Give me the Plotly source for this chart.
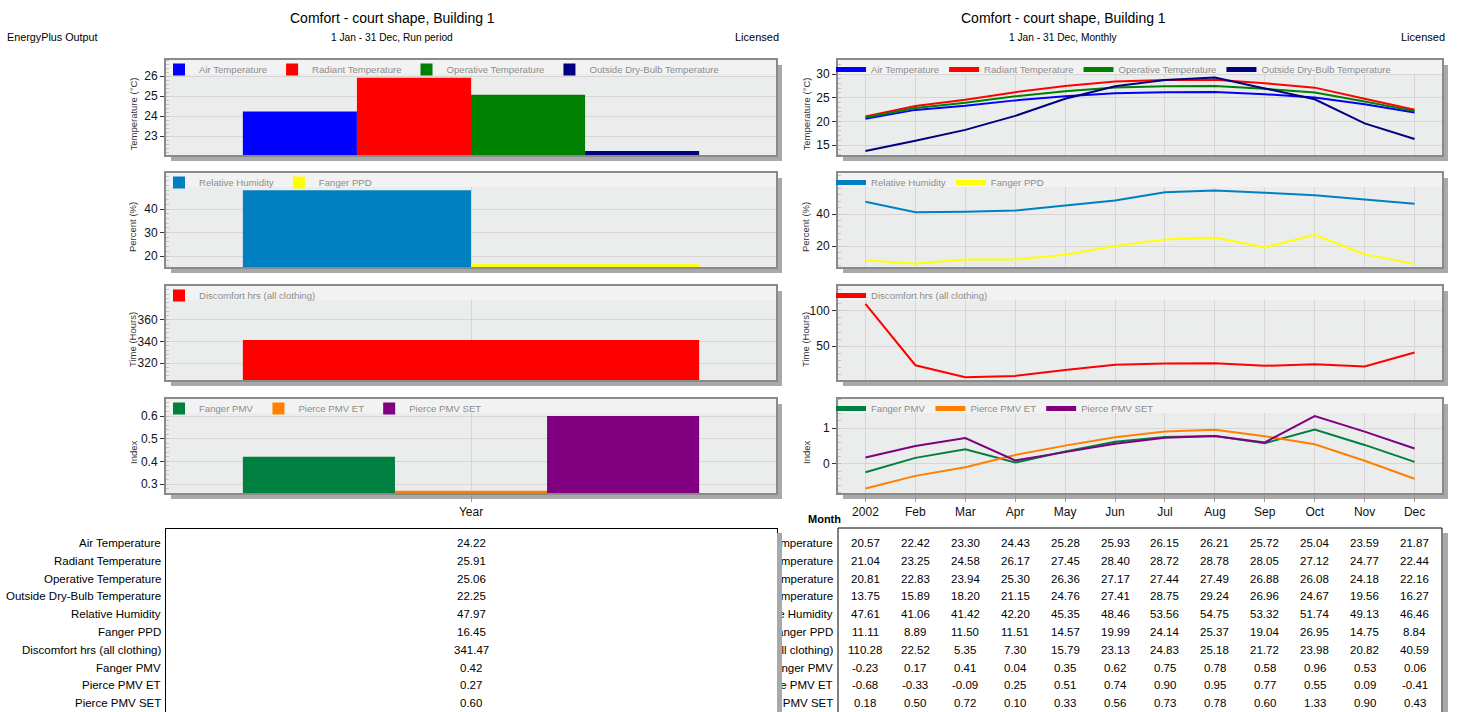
import plotly.graph_objects as go

W, H = 1458, 712

# ---------------- data ----------------
months = ["2002", "Feb", "Mar", "Apr", "May", "Jun", "Jul", "Aug", "Sep", "Oct", "Nov", "Dec"]
year_label = ["Year"]

series_names = [
    "Air Temperature", "Radiant Temperature", "Operative Temperature",
    "Outside Dry-Bulb Temperature", "Relative Humidity", "Fanger PPD",
    "Discomfort hrs (all clothing)", "Fanger PMV", "Pierce PMV ET", "Pierce PMV SET",
]
annual_values = [24.22, 25.91, 25.06, 22.25, 47.97, 16.45, 341.47, 0.42, 0.27, 0.60]

air_temp = [20.57, 22.42, 23.30, 24.43, 25.28, 25.93, 26.15, 26.21, 25.72, 25.04, 23.59, 21.87]
radiant_temp = [21.04, 23.25, 24.58, 26.17, 27.45, 28.40, 28.72, 28.78, 28.05, 27.12, 24.77, 22.44]
operative_temp = [20.81, 22.83, 23.94, 25.30, 26.36, 27.17, 27.44, 27.49, 26.88, 26.08, 24.18, 22.16]
outside_temp = [13.75, 15.89, 18.20, 21.15, 24.76, 27.41, 28.75, 29.24, 26.96, 24.67, 19.56, 16.27]
rel_humidity = [47.61, 41.06, 41.42, 42.20, 45.35, 48.46, 53.56, 54.75, 53.32, 51.74, 49.13, 46.46]
fanger_ppd = [11.11, 8.89, 11.50, 11.51, 14.57, 19.99, 24.14, 25.37, 19.04, 26.95, 14.75, 8.84]
discomfort_hrs = [110.28, 22.52, 5.35, 7.30, 15.79, 23.13, 24.83, 25.18, 21.72, 23.98, 20.82, 40.59]
fanger_pmv = [-0.23, 0.17, 0.41, 0.04, 0.35, 0.62, 0.75, 0.78, 0.58, 0.96, 0.53, 0.06]
pierce_pmv_et = [-0.68, -0.33, -0.09, 0.25, 0.51, 0.74, 0.90, 0.95, 0.77, 0.55, 0.09, -0.41]
pierce_pmv_set = [0.18, 0.50, 0.72, 0.10, 0.33, 0.56, 0.73, 0.78, 0.60, 1.33, 0.90, 0.43]

monthly_values = [air_temp, radiant_temp, operative_temp, outside_temp, rel_humidity,
                  fanger_ppd, discomfort_hrs, fanger_pmv, pierce_pmv_et, pierce_pmv_set]

axis_titles = ["Temperature (°C)", "Percent (%)", "Time (Hours)", "Index"]
panel_series = [[0, 1, 2, 3], [4, 5], [6], [7, 8, 9]]

left_ticks = [[23, 24, 25, 26], [20, 30, 40], [320, 340, 360], [0.3, 0.4, 0.5, 0.6]]
right_ticks = [[15, 20, 25, 30], [20, 40], [50, 100], [0, 1]]

# ---------------- style ----------------
colors = ["#0000FF", "#FF0000", "#008000", "#000080", "#0080C0",
          "#FFFF00", "#FF0000", "#008040", "#FF8000", "#800080"]

NARROW = "Liberation Sans Narrow, Arial Narrow, Liberation Sans, sans-serif"
SANS = "Liberation Sans, Arial, sans-serif"

LEFT_X = (166, 776)
RIGHT_X = (838, 1442)
ROWS = [(60, 155), (173, 267), (286, 380), (399, 493)]
LEGEND_H = 14

left_ranges = [(22.05, 26.8), (15.32, 55.32), (304.19, 391.6), (0.2603, 0.675)]
right_ranges = [(12.89, 32.96), (6.875, 65.63), (1.43, 135.7), (-0.806, 1.806)]
left_minor = [0.2, 2, 4, 0.02]
right_minor = [1, 4, 10, 0.2]

GRID = "#D6D6D6"
FRAME = "#8A8A8A"
SHADOW = "#A9A9A9"
TICK_SIZE = 12
TABLE_SIZE = 11.5


def px(xp):
    return xp / W


def py(yp):
    return 1 - yp / H


fig = go.Figure()
layout = dict(
    width=W, height=H, margin=dict(l=0, r=0, t=0, b=0), autosize=False,
    paper_bgcolor="white", plot_bgcolor="#EBECEC",
    barmode="group", bargap=0.252, bargroupgap=0,
    font=dict(family=NARROW, size=12, color="#000"),
    showlegend=True,
)
shapes = []
annotations = []


def axis_pair(idx, xspan, yspan, yrange, ticks, minor_dt, categories, xrange, bottom):
    xa = dict(
        domain=[px(xspan[0]), px(xspan[1])], anchor=f"y{idx}", type="category",
        categoryorder="array", categoryarray=categories, range=xrange,
        showgrid=True, gridcolor=GRID, gridwidth=1, zeroline=False,
        showline=True, mirror=True, linecolor=FRAME, linewidth=2,
        ticks="outside" if bottom else "", ticklen=7, tickcolor="#9A9A9A",
        showticklabels=bottom, tickfont=dict(family=NARROW, size=TICK_SIZE, color="#111"),
        fixedrange=True,
    )
    ya = dict(
        domain=[py(yspan[1]), py(yspan[0])], anchor=f"x{idx}", range=list(yrange),
        tickmode="array", tickvals=ticks, showgrid=True, gridcolor=GRID, gridwidth=1,
        zeroline=False, showline=True, mirror=True, linecolor=FRAME, linewidth=2,
        ticks="outside", ticklen=4, tickcolor="#333",
        tickfont=dict(family=NARROW, size=TICK_SIZE, color="#111"),
        minor=dict(ticks="inside", ticklen=3, tickcolor="#C4C4C4", dtick=minor_dt,
                   tick0=0, showgrid=False),
        fixedrange=True,
    )
    return xa, ya


def panel_decor(idx, xspan, yspan, yrange, xrange, legend_key):
    x0, x1 = xspan
    top, bot = yspan
    # drop shadow along the bottom and right edges
    shapes.append(dict(type="rect", xref="paper", yref="paper", layer="below",
                       x0=px(x0 + 5), x1=px(x1 + 6), y0=py(bot + 6), y1=py(bot + 1),
                       fillcolor=SHADOW, line=dict(width=0)))
    shapes.append(dict(type="rect", xref="paper", yref="paper", layer="below",
                       x0=px(x1 + 1), x1=px(x1 + 6), y0=py(bot + 6), y1=py(top + 5),
                       fillcolor=SHADOW, line=dict(width=0)))
    # lighter strip under the legend
    scale = (bot - top) / (yrange[1] - yrange[0])
    shapes.append(dict(type="rect", xref=f"x{idx}", yref=f"y{idx}", layer="between",
                       x0=xrange[0], x1=xrange[1], y0=yrange[1] - LEGEND_H / scale,
                       y1=yrange[1], fillcolor="#F2F2F2", line=dict(width=0)))
    layout[legend_key] = dict(
        x=px(x0 - 7), y=py(top - 5), xanchor="left", yanchor="top",
        orientation="h", bgcolor="rgba(0,0,0,0)", borderwidth=0,
        font=dict(family=NARROW, size=9.6, color="#8C8C8C"),
        itemwidth=30, tracegroupgap=0, traceorder="normal",
        itemclick=False, itemdoubleclick=False,
    )


# ---------------- left column: run-period bars ----------------
for p in range(4):
    idx = p + 1
    key = "legend" if idx == 1 else f"legend{idx}"
    xa, ya = axis_pair(idx, LEFT_X, ROWS[p], left_ranges[p], left_ticks[p], left_minor[p],
                       year_label, [-0.5, 0.5], p == 3)
    layout["xaxis" if idx == 1 else f"xaxis{idx}"] = xa
    layout["yaxis" if idx == 1 else f"yaxis{idx}"] = ya
    panel_decor(idx, LEFT_X, ROWS[p], left_ranges[p], [-0.5, 0.5], key)
    for s in panel_series[p]:
        fig.add_trace(go.Bar(
            x=year_label, y=[annual_values[s]], name=series_names[s],
            marker=dict(color=colors[s], line=dict(width=0)),
            xaxis=f"x{idx}", yaxis=f"y{idx}", legend=key, hoverinfo="skip",
        ))
    top, bot = ROWS[p]
    annotations.append(dict(
        text=axis_titles[p], xref="paper", yref="paper", x=px(133),
        y=py((top + LEGEND_H + bot) / 2), textangle=-90, showarrow=False,
        font=dict(family=SANS, size=9.5, color="#333"), xanchor="center", yanchor="middle"))

# ---------------- right column: monthly lines ----------------
for p in range(4):
    idx = p + 5
    key = f"legend{idx}"
    xr = [-0.55, 11.55]
    xa, ya = axis_pair(idx, RIGHT_X, ROWS[p], right_ranges[p], right_ticks[p], right_minor[p],
                       months, xr, p == 3)
    layout[f"xaxis{idx}"] = xa
    layout[f"yaxis{idx}"] = ya
    panel_decor(idx, RIGHT_X, ROWS[p], right_ranges[p], xr, key)
    for s in panel_series[p]:
        fig.add_trace(go.Scatter(
            x=months, y=monthly_values[s], mode="lines", name=series_names[s],
            line=dict(color=colors[s], width=2), showlegend=False,
            xaxis=f"x{idx}", yaxis=f"y{idx}", hoverinfo="skip",
        ))
        # legend entry drawn with a heavier stroke
        fig.add_trace(go.Scatter(
            x=[None], y=[None], mode="lines", name=series_names[s],
            line=dict(color=colors[s], width=5), showlegend=True,
            xaxis=f"x{idx}", yaxis=f"y{idx}", legend=key, hoverinfo="skip",
        ))
    top, bot = ROWS[p]
    annotations.append(dict(
        text=axis_titles[p], xref="paper", yref="paper", x=px(806),
        y=py((top + LEGEND_H + bot) / 2), textangle=-90, showarrow=False,
        font=dict(family=SANS, size=9.5, color="#333"), xanchor="center", yanchor="middle"))

# ---------------- headers ----------------
def header(x, y, text, size, anchor="center", bold=False):
    annotations.append(dict(
        text=f"<b>{text}</b>" if bold else text, xref="paper", yref="paper",
        x=px(x), y=py(y), xanchor=anchor, yanchor="middle", showarrow=False,
        font=dict(family=NARROW, size=size, color="#000")))


header(392, 18, "Comfort - court shape, Building 1", 14)
header(392, 37, "1 Jan - 31 Dec, Run period", 10.2)
header(5, 37, "EnergyPlus Output", 10.8, "left")
header(781, 37, "Licensed", 11, "right")
header(1063, 18, "Comfort - court shape, Building 1", 14)
header(1063, 37, "1 Jan - 31 Dec, Monthly", 10.2)
header(1447, 37, "Licensed", 11, "right")
header(824, 519, "Month", 11, bold=True)

# ---------------- data tables ----------------
ROW0, ROW_STEP = 543, 17.8
TABLE_TOP = 528

# monthly table: row captions (partly hidden behind the run-period table)
for r, name in enumerate(series_names):
    annotations.append(dict(
        text=name, xref="paper", yref="paper", x=px(835), y=py(ROW0 + r * ROW_STEP),
        xanchor="right", yanchor="middle", showarrow=False,
        font=dict(family=NARROW, size=TABLE_SIZE, color="#000")))

# run-period table frame sits on top of those captions
annotations.append(dict(
    text=" ", xref="paper", yref="paper", x=px(165), y=py(TABLE_TOP),
    xanchor="left", yanchor="top", showarrow=False, width=611, height=220,
    bgcolor="white", bordercolor="#000", borderwidth=1, borderpad=0))
annotations.append(dict(
    text=" ", xref="paper", yref="paper", x=px(777), y=py(TABLE_TOP + 5),
    xanchor="left", yanchor="top", showarrow=False, width=5, height=220,
    bgcolor=SHADOW, borderwidth=0, borderpad=0))

for r, name in enumerate(series_names):
    ry = py(ROW0 + r * ROW_STEP)
    annotations.append(dict(
        text=name, xref="paper", yref="paper", x=px(163), y=ry,
        xanchor="right", yanchor="middle", showarrow=False,
        font=dict(family=NARROW, size=TABLE_SIZE, color="#000")))
    annotations.append(dict(
        text=f"{annual_values[r]:.2f}", xref="x4", yref="paper", x=0, y=ry,
        xanchor="center", yanchor="middle", showarrow=False,
        font=dict(family=NARROW, size=TABLE_SIZE, color="#000")))
    for c in range(len(months)):
        annotations.append(dict(
            text=f"{monthly_values[r][c]:.2f}", xref="x8", yref="paper", x=c, y=ry,
            xanchor="center", yanchor="middle", showarrow=False,
            font=dict(family=NARROW, size=TABLE_SIZE, color="#000")))

# monthly table frame
shapes.append(dict(type="rect", xref="paper", yref="paper", layer="above",
                   x0=px(838), x1=px(1442), y0=py(H + 20), y1=py(TABLE_TOP),
                   fillcolor="rgba(0,0,0,0)", line=dict(color="#000", width=1)))
shapes.append(dict(type="rect", xref="paper", yref="paper", layer="above",
                   x0=px(1443), x1=px(1448), y0=py(H + 20), y1=py(TABLE_TOP + 5),
                   fillcolor=SHADOW, line=dict(width=0)))

layout["shapes"] = shapes
layout["annotations"] = annotations
fig.update_layout(**layout)

fig.write_html("out.html", config={"displayModeBar": False, "staticPlot": True})
